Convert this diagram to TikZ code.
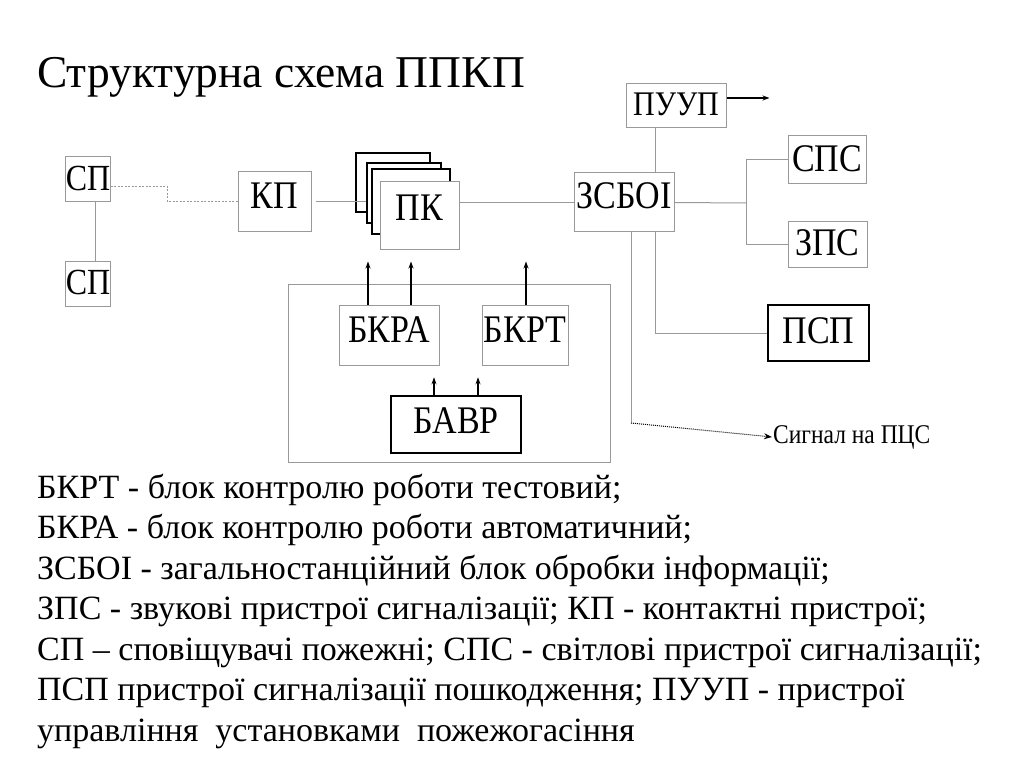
\documentclass[tikz,border=0pt]{standalone}
\usepackage{graphicx}
\usepackage{fontspec}
\setmainfont{Liberation Serif}
\usetikzlibrary{arrows.meta}
\definecolor{boxgray}{gray}{0.6}
\newcommand{\tall}[1]{\scalebox{1}[1.15]{#1}}

\tikzset{
  blk/.style={draw=boxgray, line width=1pt, fill=white, inner sep=0pt, text height=23pt, font=\fontsize{34}{38}\selectfont},
  blkdark/.style={blk, draw=black, line width=1.4pt},
  conn/.style={draw=boxgray, line width=1pt},
  arr/.style={black, line width=1.4pt, -{Stealth[length=7pt,width=5pt]}}
}

\begin{document}
\begin{tikzpicture}[x=1pt,y=-1pt]
\useasboundingbox (0,0) rectangle (1024,767);
\node[anchor=base west, inner sep=0pt, font=\fontsize{45.5}{50}\selectfont] (title) at (37,88) {Структурна схема ППКП};

% detectors and contacts
\node[blk, minimum width=44pt, minimum height=45pt, font=\fontsize{32}{36}\selectfont] (sp1) at (88,179.5) {\tall{СП}};
\node[blk, minimum width=44pt, minimum height=45pt, font=\fontsize{32}{36}\selectfont] (sp2) at (88,283.5) {\tall{СП}};
\node[blk, minimum width=73pt, minimum height=60pt, text depth=9.5pt] (kp) at (274.5,202) {\tall{КП}};

% stack of ПК boards
\foreach \x/\y/\w/\h [count=\i] in {393/182.5/74/59, 404/193/74/60, 411/201.5/78/65} {
\node[blkdark, minimum width=\w pt, minimum height=\h pt] (sheet\i) at (\x,\y) {};
}
\node[blk, minimum width=79pt, minimum height=67pt, text depth=13.5pt] (pk) at (419.5,215.5) {\tall{ПК}};

\node[blk, minimum width=100pt, minimum height=59pt, text depth=10.5pt] (zsboi) at (624,202.5) {\tall{ЗСБОІ}};
\node[blk, minimum width=100pt, minimum height=44pt, text height=20pt, font=\fontsize{30}{34}\selectfont] (puup) at (676,106) {\tall{ПУУП}};
\node[blk, minimum width=78pt, minimum height=48pt] (sps) at (827,160) {\tall{СПС}};
\node[blk, minimum width=79pt, minimum height=45pt] (zps) at (827.5,244.5) {\tall{ЗПС}};
\node[blkdark, minimum width=101pt, minimum height=56pt, text depth=2.5pt] (psp) at (818.5,333) {\tall{ПСП}};

% control unit
\node[blk, minimum width=322pt, minimum height=178pt] (frame) at (449,373) {};
\node[blk, minimum width=100pt, minimum height=60pt, text depth=7.5pt] (bkra) at (389,335) {\tall{БКРА}};
\node[blk, minimum width=86pt, minimum height=60pt, text depth=7.5pt] (bkrt) at (525,335) {\tall{БКРТ}};
\node[blkdark, minimum width=130pt, minimum height=57pt, text depth=4.5pt] (bavr) at (456,424.5) {\tall{БАВР}};

\node[anchor=west, inner sep=1pt, font=\fontsize{23.5}{26}\selectfont] (pcs) at (772,437) {\tall{Сигнал на ПЦС}};

\coordinate (fork) at (746,203);
\coordinate (pcsbend) at (631,423);

% connections
\draw[conn] ([xshift=7pt]sp1.south) -- ([xshift=7pt]sp2.north);
\draw[conn, dash pattern=on 2pt off 1.5pt] ([yshift=-7.5pt]sp1.east) -- ++(57,0) |- (kp.west);
\draw[conn] ([xshift=4pt]kp.east) -- (kp.east -| sheet2.west);
\draw[conn] (zsboi.west -| pk.east) -- (zsboi.west);
\draw[conn] ([xshift=-21pt]puup.south) -- ([xshift=-21pt]puup.south |- zsboi.north);
\draw[arr] ([yshift=8pt]puup.east) -- ++(43,0);
\draw[conn] (zsboi.east) -- (fork);
\draw[conn] (sps.west) -| (fork) |- (zps.west);
\draw[conn] ([xshift=31pt]zsboi.south) |- (psp.west);
\draw[conn] (zsboi.south -| pcsbend) -- (pcsbend);
\draw[black, line width=1pt, dash pattern=on 1pt off 1pt, -{Stealth[length=8pt,width=6pt]}] (pcsbend) -- (pcs.west);

\draw[arr] ([xshift=-21pt]bkra.north) -- ++(0,-43);
\draw[arr] ([xshift=22pt]bkra.north) -- ++(0,-43);
\draw[arr] ([xshift=1pt]bkrt.north) -- ++(0,-43);
\draw[arr] ([xshift=-22pt]bavr.north) -- ++(0,-18);
\draw[arr] ([xshift=22pt]bavr.north) -- ++(0,-18);

% legend
\foreach \t [count=\i from 0] in {{БКРТ - блок контролю роботи тестовий;},
  {БКРА - блок контролю роботи автоматичний;},
  {ЗСБОІ - загальностанційний блок обробки інформації;},
  {ЗПС - звукові пристрої сигналізації; КП - контактні пристрої;},
  {СП – сповіщувачі пожежні; СПС - світлові пристрої сигналізації;},
  {ПСП пристрої сигналізації пошкодження; ПУУП - пристрої},
  {управління\ \ установками\ \ пожежогасіння}} {
\node[anchor=base west, inner sep=0pt, font=\fontsize{34}{40}\selectfont] (leg\i) at (37,{498+40.5*\i}) {\t};
}
\end{tikzpicture}
\end{document}
